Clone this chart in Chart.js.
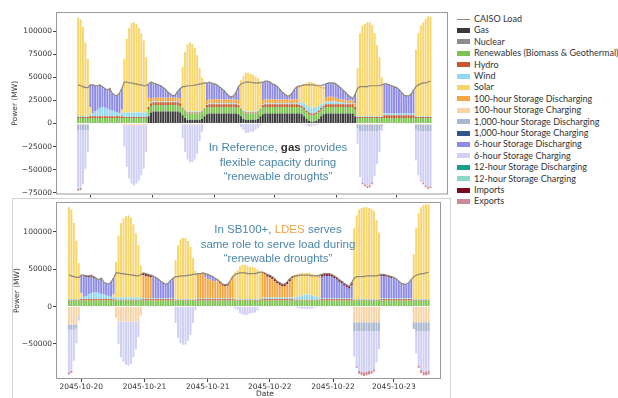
<!DOCTYPE html>
<html>
<head>
<meta charset="utf-8">
<script src="https://cdn.jsdelivr.net/npm/chart.js@4.4.1/dist/chart.umd.min.js"></script>
<style>
  body { margin: 0; background: #fff; width: 618px; height: 398px; overflow: hidden; position: relative; font-family: 'DejaVu Sans', sans-serif; }
  canvas { position: absolute; left: 0; }
  #top { top: 0; }
  #bot { top: 196px; }
  .box { position: absolute; left: 12px; top: 198px; width: 437px; height: 220px; border: 1px solid #d2d2d2; }
  .note { position: absolute; left: 178px; width: 200px; text-align: center; color: #4a86aa; font: 11.5px 'Liberation Sans', Arial, sans-serif; line-height: 14.5px; }
  #date { position: absolute; left: 245px; top: 389px; width: 40px; text-align: center; font-size: 7.5px; color: #333; }
  #legend { position: absolute; left: 457px; top: 13px; font: 9px Lato, sans-serif; color: #333; }
  .row { position: absolute; left: 0; height: 12px; line-height: 12px; white-space: nowrap; }
  .sw { position: absolute; left: 0; top: 3.5px; width: 13px; height: 5px; }
  .sw.line { top: 5.5px; height: 1.3px; }
  .row span.t { position: absolute; left: 17px; top: 0; }
</style>
</head>
<body>
<div class="box"></div>
<canvas id="top" width="450" height="200"></canvas>
<canvas id="bot" width="450" height="202"></canvas>
<div class="note" style="top:140px">In Reference, <b style="color:#333">gas</b> provides<br>flexible capacity during<br>“renewable droughts”</div>
<div class="note" style="top:222px">In SB100+, <span style="color:#f0a246">LDES</span> serves<br>same role to serve load during<br>“renewable droughts”</div>
<div id="date">Date</div>
<div id="legend"></div>
<script>
// hourly steps, first bar = 2045-10-20 11:00
const hours = Array.from({length: 146}, (_, i) => i);
const tickPos = [5, 30.5, 56, 81, 106.5, 131];
const tickText = ['2045-10-20', '2045-10-21', '2045-10-21', '2045-10-22', '2045-10-22', '2045-10-23'];
const yTicksTop = [-75000, -50000, -25000, 0, 25000, 50000, 75000, 100000];
const yTicksBot = [-50000, 0, 50000, 100000];

// all values below in thousands of MW

// CAISO load (same in both panels)
const load = [
  42,41,40,39,39,42,
  42,41,41,42,40,38,36,38,33,31,30,33,38,
  45,45,44,44,43,43,42,42,41,41,43,
  45,44,43,42,41,39,37,34,32,30,31,35,38,
  40,40,41,41,41,42,42,43,43,44,44,45,
  44,43,42,40,38,36,33,30,29,30,34,40,
  43,44,45,45,45,44,44,44,44,45,46,46,
  45,43,42,40,37,34,32,30,30,33,37,40,
  41,41,42,42,42,42,42,41,41,41,42,43,
  44,44,44,43,41,39,36,34,31,29,27,32,
  38,40,40,40,40,41,41,41,41,41,42,
  43,43,42,41,40,39,37,34,31,30,30,32,36,
  40,42,43,44,44,45,46
];

// ---- Reference panel ----
const gasRef = [
  0,0,0,0,0,
  0,0,0,0,0, 0,0,0,0,0, 0,0,0,0,
  0,0,0,0,0, 0,0,0,0,0,
  8,12,13,13,13,13,13,13,13,13,13,13,13,12,
  9,6,4,4,4,4,4,4,5,8,
  10,11,11,11,11,11,11,11,11,11,11,11,11,10,
  8,5,4,4,4,4,4,5,8,
  10,11,11,11,11,11,11,11,11,11,11,11,11,11,11,
  11,10,8,5,3,2,2,3,5,8,10,
  11,11,11,11,11,11,11,11,11,11,11,11,8,
  0,0,0,0,0, 0,0,0,0,0, 0,
  0,0,0,0,0, 0,0,0,0,0, 0,0,0,
  0,0,0,0,0, 0,0
];
const renewRef = [
  6,6,6,6,6,
  6,6,6,6,6, 6,6,6,6,6, 6,6,6,6,
  6,6,6,6,6, 6,6,6,6,6,
  7,7,7,7,7, 7,7,7,7,7, 7,7,7,7,
  7,7,7,7,7, 7,7,7,7,7,
  7,7,7,7,7, 7,7,7,7,7, 7,7,7,7,
  7,7,7,7,7, 7,7,7,7,
  7,7,7,7,7, 7,7,7,7,7, 7,7,7,7,7,
  7,7,7,7,7, 7,7,7,7,7, 7,
  7,7,7,7,7, 7,7,7,7,7, 7,7,7,
  6,6,6,6,6, 6,6,6,6,6, 6,
  6,6,6,6,6, 6,6,6,6,6, 6,6,6,
  6,6,6,6,6, 6,6
];
const hydroRef = [
  1,1,1,1,1,
  2,2,2,2,2, 2,2,2,2,2, 2,2,2,2,
  1,1,1,1,1, 1,1,1,1,1,
  3,3,3,3,3, 3,3,3,3,3, 3,3,3,3,
  1,1,1,1,1, 1,1,1,1,1,
  3,3,3,3,3, 3,3,3,3,3, 3,3,3,3,
  1,1,1,1,1, 1,1,1,1,
  3,3,3,3,3, 3,3,3,3,3, 3,3,3,3,3,
  2,2,2,2,2, 2,2,2,2,2, 2,
  3,3,3,3,3, 3,3,3,3,3, 3,3,3,
  1,1,1,1,1, 1,1,1,1,1, 1,
  3,3,3,3,3, 3,3,3,3,3, 3,3,3,
  1,1,1,1,1, 1,1
];
const windRef = [
  1,1,1,1,1,
  2,3,5,7,9,10,9,8,7,6,5,4,3,3,
  5,5,5,5,5, 5,5,5,5,5,
  1,1,1,1,1, 1,1,1,1,1, 1,1,1,1,
  1,1,1,1,1, 1,1,1,1,1,
  1,1,1,1,1, 1,1,1,1,1, 1,1,1,1,
  1,1,1,1,1, 1,1,1,1,
  1,1,1,1,1, 1,1,1,1,1, 1,1,1,1,1,
  3,4,5,6,6,6,6,6,5,4,3,
  3,3,3,3,3,2,2,2,1,1,1,1,1,
  1,1,1,1,1, 1,1,1,1,1, 1,
  2,2,2,2,2, 2,2,2,2,2, 2,2,2,
  1,1,1,1,1, 1,1
];
const solarRef = [
  107,105,97,80,62,
  8,0,0,0,0, 0,0,0,0,0, 0,0,0,4,
  58,80,92,97,98,96,92,86,78,60,
  5,0,0,0,0, 0,0,0,0,0, 0,0,0,0,
  44,63,73,75,73,69,61,47,36,28,
  0,0,0,0,0, 0,0,0,0,0, 0,0,0,0,
  30,37,42,42,41,40,38,35,29,
  0,0,0,0,0, 0,0,0,0,0, 0,0,0,0,0,
  15,17,20,24,27,28,27,25,22,17,15,
  0,0,0,0,0, 0,0,0,0,0, 0,0,0,
  52,90,98,100,102,102,99,90,77,64,42,
  0,0,0,0,0, 0,0,0,0,0, 0,0,0,
  72,90,98,102,105,108,108
];
const dis100Ref = [
  0,0,0,0,0,
  0,0,0,0,0, 0,0,0,0,0, 0,0,0,0,
  0,0,0,0,0, 0,0,0,0,0,
  4,4,4,4,4, 4,4,4,4,4, 4,4,4,4,
  0,0,0,0,0, 0,0,0,0,0,
  4,4,4,4,4, 4,4,4,4,4, 4,4,4,4,
  0,0,0,0,0, 0,0,0,0,
  4,4,4,4,4, 4,4,4,4,4, 4,4,4,4,4,
  3,2,1,0,0,0,0,0,1,2,3,
  4,5,5,5,4,4,3,3,3,3,3,3,3,
  0,0,0,0,0, 0,0,0,0,0, 0,
  0,0,0,0,0, 0,0,0,0,0, 0,0,0,
  0,0,0,0,0, 0,0
];
const dis6Ref = [
  0,0,0,0,0,
  24,31,28,26,25,22,21,20,23,19,18,18,22,23,
  0,0,0,0,0, 0,0,0,0,0,
  15,18,16,15,14,13,11,9,6,4,2,3,7,11,
  0,0,0,0,0, 0,0,0,0,0,
  19,19,18,17,16,14,12,10,7,4,3,4,8,15,
  0,0,0,0,0, 0,0,0,0,
  20,20,20,19,17,16,14,11,8,6,4,4,7,11,14,
  0,0,0,0,0, 0,0,0,0,0, 0,
  15,15,15,15,15,14,13,10,9,6,4,2,10,
  0,0,0,0,0, 0,0,0,0,0, 0,
  32,32,31,30,29,28,26,23,20,19,19,21,25,
  0,0,0,0,0, 0,0
];
const ch100Ref = [
  -1,-1,-1,-1,-1,
  0,0,0,0,0, 0,0,0,0,0, 0,0,0,0,
  -2,-2,-2,-2,-2, -2,-2,-2,-2,-2,
  0,0,0,0,0, 0,0,0,0,0, 0,0,0,0,
  -1,-1,-1,-1,-1, -1,-1,-1,-1,0,
  0,0,0,0,0, 0,0,0,0,0, 0,0,0,0,
  0,0,0,0,0, 0,0,0,0,
  0,0,0,0,0, 0,0,0,0,0, 0,0,0,0,0,
  0,0,0,0,0, 0,0,0,0,0, 0,
  0,0,0,0,0, 0,0,0,0,0, 0,0,0,
  -1,-1,-1,-1,-1, -1,-1,-1,-1,-1, -1,
  0,0,0,0,0, 0,0,0,0,0, 0,0,0,
  -1,-1,-1,-1,-1, -1,-1
];
const ch1000Ref = [
  -6,-6,-6,-6,-6,
  0,0,0,0,0, 0,0,0,0,0, 0,0,0,0,
  0,0,0,0,0, 0,0,0,0,0,
  0,0,0,0,0, 0,0,0,0,0, 0,0,0,0,
  0,0,0,0,0, 0,0,0,0,0,
  0,0,0,0,0, 0,0,0,0,0, 0,0,0,0,
  0,0,0,0,0, 0,0,0,0,
  0,0,0,0,0, 0,0,0,0,0, 0,0,0,0,0,
  0,0,0,0,0, 0,0,0,0,0, 0,
  0,0,0,0,0, 0,0,0,0,0, 0,0,0,
  -4,-7,-7,-7,-7,-7,-7,-7,-7,-6,-2,
  0,0,0,0,0, 0,0,0,0,0, 0,0,0,
  -5,-7,-7,-7,-7,-7,-7
];
const ch6Ref = [
  -64,-63,-57,-42,-24,
  0,0,0,0,0, 0,0,0,0,0, 0,0,0,0,
  -23,-45,-58,-63,-65,-63,-60,-54,-47,-29,
  0,0,0,0,0, 0,0,0,0,0, 0,0,0,0,
  -15,-30,-38,-41,-41,-38,-32,-18,-8,-1,
  0,0,0,0,0, 0,0,0,0,0, 0,0,0,0,
  -4,-7,-10,-10,-9,-9,-7,-5,-2,
  0,0,0,0,0, 0,0,0,0,0, 0,0,0,0,0,
  0,-1,-1,-2,-3,-3,-2,-2,-1,0,0,
  0,0,0,0,0, 0,0,0,0,0, 0,0,0,
  -17,-50,-56,-58,-60,-59,-56,-49,-36,-24,-5,
  0,0,0,0,0, 0,0,0,0,0, 0,0,0,
  -34,-48,-54,-56,-59,-61,-60
];
const expRef = [
  -2,-2,-1,0,0,
  0,0,0,0,0, 0,0,0,0,0, 0,0,0,0,
  0,0,0,0,0, 0,0,0,0,0,
  0,0,0,0,0, 0,0,0,0,0, 0,0,0,0,
  0,0,0,0,0, 0,0,0,0,0,
  0,0,0,0,0, 0,0,0,0,0, 0,0,0,0,
  0,0,0,0,0, 0,0,0,0,
  0,0,0,0,0, 0,0,0,0,0, 0,0,0,0,0,
  0,0,0,0,0, 0,0,0,0,0, 0,
  0,0,0,0,0, 0,0,0,0,0, 0,0,0,
  0,0,-2,-2,-2,-2,-2,0,0,0,0,
  0,0,0,0,0, 0,0,0,0,0, 0,0,0,
  0,0,-1,-2,-2,-2,-2
];

// ---- SB100+ panel ----
const renewB = [
  8,8,8,8,8, 8,8,8,8,8, 8,8,8,8,8, 8,8,8,8,8, 8,8,8,8,8, 8,8,8,8,8,
  8,8,8,8,8, 8,8,8,8,8, 8,8,8,8,8, 8,8,8,8,8, 8,8,8,8,8, 8,8,8,8,8,
  8,8,8,8,8, 8,8,8,8,8, 8,8,8,8,8, 8,8,8,8,8, 8,8,8,8,8, 8,8,8,8,8,
  8,8,8,8,8, 8,8,8,8,8, 8,8,8,8,8, 8,8,8,8,8, 8,8,8,8,8, 8,8,8,8,8,
  8,8,8,8,8, 8,8,8,8,8, 8,8,8,8,8, 8,8,8,8,8, 8,8,8,8,8, 8
];
const hydroB = [
  1,1,1,1,1,
  2,2,2,2,2, 2,2,2,2,2, 2,2,2,2,
  1,1,1,1,1, 1,1,1,1,1, 1,
  2,2,2,2,2, 2,2,2,2,2, 2,2,2,
  1,1,1,1,1, 1,1,1,1,
  2,2,2,2,2, 2,2,2,2,2, 2,2,2,2,2,
  1,1,1,1,1, 1,1,1,1,1, 1,
  2,2,2,2,2, 2,2,2,2,2, 2,2,2,
  1,1,1,1,1, 1,1,1,1,1, 1,
  2,2,2,2,2, 2,2,2,2,2, 2,2,2,
  1,1,1,1,1, 1,1,1,1,1, 1,
  2,2,2,2,2, 2,2,2,2,2, 2,2,2,
  1,1,1,1,1, 1,1
];
const windB = [
  1,1,1,1,1,
  2,3,4,6,8,9,9,8,7,6,5,4,3,3,
  3,3,3,3,3, 3,3,3,3,3, 3,
  1,1,1,1,1, 1,1,1,1,1, 1,1,1,
  1,1,1,1,1, 1,1,1,1,
  1,1,1,1,1, 1,1,1,1,1, 1,1,1,1,1,
  1,1,1,1,1, 1,1,1,1,1, 1,
  2,2,2,2,2, 2,2,2,2,2, 2,2,2,
  3,4,5,6,7,7,7,6,5,4,3,
  1,1,1,1,1, 1,1,1,1,1, 1,1,1,
  1,1,1,1,1, 1,1,1,1,1, 1,
  1,1,1,1,1, 1,1,1,1,1, 1,1,1,
  1,1,1,1,1, 1,1
];
const solarB = [
  123,120,102,78,48,
  6,0,0,0,0, 0,0,0,0,0, 0,0,0,3,
  48,83,100,106,109,110,107,98,86,70,43,
  0,0,0,0,0, 0,0,0,0,0, 0,0,0,
  52,72,80,82,82,78,70,55,38,
  0,0,0,0,0, 0,0,0,0,0, 0,0,0,0,0,
  36,39,44,46,46,45,43,43,42,40,37,
  0,0,0,0,0, 0,0,0,0,0, 0,0,0,
  26,28,30,30,29,29,29,29,29,27,26,
  0,0,0,0,0, 0,0,0,0,0, 0,0,0,
  95,112,120,122,123,123,122,121,118,106,89,
  0,0,0,0,0, 0,0,0,0,0, 0,0,0,
  60,95,115,123,126,127,127
];
const dis100B = [
  0,0,0,0,0,
  0,0,0,0,0, 0,0,0,0,0, 0,0,0,0,
  0,0,0,0,0, 0,0,0,0,0, 0,
  31,30,29,28,0, 0,0,0,0,0, 0,0,0,
  0,0,0,0,0, 0,0,0,0,
  33,33,34,28,26,25,23,23,25,20,17,16,17,23,29,
  0,0,0,0,0, 0,0,0,0,0, 0,
  34,31,28,27,25,22,19,17,15,15,18,22,26,
  4,2,0,0,0,0,0,0,0,2,4,
  0,0,0,0,0, 0,0,0,0,0, 0,0,0,
  0,0,0,0,0, 0,0,0,0,0, 0,
  0,0,0,0,0, 0,0,0,0,0, 0,0,0,
  0,0,0,0,0, 0,0
];
const dis6B = [
  0,0,0,0,0,
  24,29,25,23,22,19,18,18,21,17,16,16,20,22,
  0,0,0,0,0, 0,0,0,0,0, 0,
  0,0,0,0,30,28,26,23,21,19,20,24,27,
  0,0,0,0,0, 0,0,0,0,
  0,0,0,5,6,6,6,4,0,0,0,0,0,0,0,
  0,0,0,0,0, 0,0,0,0,0, 0,
  0,0,0,0,0, 0,0,0,0,0, 0,0,0,
  0,0,0,0,0, 0,0,0,0,0, 0,
  29,30,30,30,29,27,25,22,20,17,15,13,18,
  0,0,0,0,0, 0,0,0,0,0, 0,
  30,30,29,28,27,28,26,23,20,19,19,21,25,
  0,0,0,0,0, 0,0
];
const impB = [
  0,0,0,0,0,
  0,0,2,2,2,2,1,0,0,0,0,0,0,0,
  0,0,0,0,0, 0,0,0,0,0, 0,
  3,3,3,3,0, 0,0,0,0,0, 0,0,0,
  0,0,0,0,0, 0,0,0,0,
  0,0,0,0,0,0,0,0,0,2,2,2,2,0,0,
  0,0,0,0,0, 0,0,0,0,0, 0,
  0,2,3,3,3,3,3,3,3,3,3,3,2,
  0,0,0,0,0, 0,0,0,0,0, 0,
  3,3,3,3,3, 3,3,3,3,3, 3,3,3,
  0,0,0,0,0, 0,0,0,0,0, 0,
  2,2,2,2,2, 0,0,0,0,0, 0,0,0,
  0,0,0,0,0, 0,0
];
const ch100B = [
  -24,-24,-24,-24,-12,
  0,0,0,0,0, 0,0,0,0,0, 0,0,0,0,
  -15,-20,-20,-20,-20,-20,-20,-20,-20,-20,-12,
  0,0,0,0,0, 0,0,0,0,0, 0,0,0,
  0,0,0,0,0, 0,0,0,0,
  0,0,0,0,0, 0,0,0,0,0, 0,0,0,0,0,
  0,0,0,0,0, 0,0,0,0,0, 0,
  0,0,0,0,0, 0,0,0,0,0, 0,0,0,
  0,0,0,0,0, 0,0,0,0,0, 0,
  0,0,0,0,0, 0,0,0,0,0, 0,0,0,
  -21,-21,-21,-21,-21, -21,-21,-21,-21,-21, -21,
  0,0,0,0,0, 0,0,0,0,0, 0,0,0,
  -21,-21,-21,-21,-21, -21,-21
];
const ch1000B = [
  -7,-7,-7,-5,0,
  0,0,0,0,0, 0,0,0,0,0, 0,0,0,0,
  0,0,0,0,0, 0,0,0,0,0, 0,
  0,0,0,0,0, 0,0,0,0,0, 0,0,0,
  0,0,0,0,0, 0,0,0,0,
  0,0,0,0,0, 0,0,0,0,0, 0,0,0,0,0,
  0,0,0,0,0, 0,0,0,0,0, 0,
  0,0,0,0,0, 0,0,0,0,0, 0,0,0,
  0,0,0,0,0, 0,0,0,0,0, 0,
  0,0,0,0,0, 0,0,0,0,0, 0,0,0,
  -12,-12,-12,-12,-12, -12,-12,-12,-12,-12, -12,
  0,0,0,0,0, 0,0,0,0,0, 0,0,0,
  -9,-12,-12,-12,-12,-12,-12
];
const ch6B = [
  -57,-55,-40,-20,-7,
  0,0,0,0,0, 0,0,0,0,0, 0,0,0,0,
  0,-30,-48,-54,-58,-59,-57,-48,-37,-21,0,
  0,0,0,0,0, 0,0,0,0,0, 0,0,0,
  -22,-42,-49,-51,-51,-46,-38,-22,-5,
  0,0,0,0,0, 0,0,0,0,0, 0,0,0,0,0,
  -3,-5,-9,-11,-11,-11,-9,-9,-8,-5,-1,
  0,0,0,0,0, 0,0,0,0,0, 0,0,0,
  -1,-2,-2,-3,-3,-3,-3,-3,-2,-1,0,
  0,0,0,0,0, 0,0,0,0,0, 0,0,0,
  -34,-47,-53,-54,-55,-54,-53,-53,-51,-42,-24,
  0,0,0,0,0, 0,0,0,0,0, 0,0,0,
  0,-30,-46,-52,-54,-54,-53
];
const expB = [
  -3,-3,-1,0,0,
  0,0,0,0,0, 0,0,0,0,0, 0,0,0,0,
  0,0,0,0,0, 0,0,0,0,0, 0,
  0,0,0,0,0, 0,0,0,0,0, 0,0,0,
  0,0,0,0,0, 0,0,0,0,
  0,0,0,0,0, 0,0,0,0,0, 0,0,0,0,0,
  0,0,0,0,0, 0,0,0,0,0, 0,
  0,0,0,0,0, 0,0,0,0,0, 0,0,0,
  0,0,0,0,0, 0,0,0,0,0, 0,
  0,0,0,0,0, 0,0,0,0,0, 0,0,0,
  0,-2,-4,-5,-5,-5,-5,-4,-3,0,0,
  0,0,0,0,0, 0,0,0,0,0, 0,0,0,
  0,0,-3,-4,-5,-5,-5
];

const colors = {
  load: '#8e8878', gas: '#3a3a3a', nuclear: '#8c8c8c', renew: '#7dc353', hydro: '#c8572e',
  wind: '#92d7f1', solar: '#f8d66e', dis100: '#f4a642', ch100: '#f7d4a8', dis1000: '#a9b7d0',
  ch1000: '#33578a', dis6: '#8d8be6', ch6: '#d0cff6', dis12: '#16a089', ch12: '#8bd8c8',
  imports: '#7a0b22', exports: '#cc8a97'
};
const legendNames = ['CAISO Load', 'Gas', 'Nuclear', 'Renewables (Biomass & Geothermal)', 'Hydro', 'Wind', 'Solar',
  '100-hour Storage Discharging', '100-hour Storage Charging', '1,000-hour Storage Discharging', '1,000-hour Storage Charging',
  '6-hour Storage Discharging', '6-hour Storage Charging', '12-hour Storage Discharging', '12-hour Storage Charging',
  'Imports', 'Exports'];
const legendKeys = ['load', 'gas', 'nuclear', 'renew', 'hydro', 'wind', 'solar', 'dis100', 'ch100', 'dis1000', 'ch1000',
  'dis6', 'ch6', 'dis12', 'ch12', 'imports', 'exports'];

const all = {load, gasRef, renewRef, hydroRef, windRef, solarRef, dis100Ref, dis6Ref, ch100Ref, ch1000Ref, ch6Ref, expRef,
  renewB, hydroB, windB, solarB, dis100B, dis6B, impB, ch100B, ch1000B, ch6B, expB};
for (const [n, a] of Object.entries(all)) if (a.length !== 146) throw new Error(n + ' has ' + a.length);

const frame = {
  id: 'frame',
  afterDraw(c) {
    const a = c.chartArea, ctx = c.ctx;
    ctx.save();
    ctx.strokeStyle = '#9a9a9a';
    ctx.lineWidth = 1;
    ctx.strokeRect(a.left + 0.5, a.top + 0.5, a.right - a.left - 1, a.bottom - a.top - 1);
    ctx.restore();
  }
};

const tickFont = {family: 'DejaVu Sans', size: 7.5};

function draw(id, series, o) {
  const datasets = series.map(([label, key, vals]) => ({
    type: 'bar', label, data: vals.map(v => v * 1000), backgroundColor: colors[key],
    barPercentage: 0.8, categoryPercentage: 1, stack: 'mix', order: 1
  }));
  datasets.push({
    type: 'line', label: 'CAISO Load', data: load.map(v => v * 1000), borderColor: colors.load,
    borderWidth: 1.2, pointRadius: 0, stack: 'load', order: 0
  });
  new Chart(document.getElementById(id), {
    data: {labels: hours, datasets},
    options: {
      responsive: false, animation: false, devicePixelRatio: 1,
      layout: {padding: o.pad},
      plugins: {legend: {display: false}, tooltip: {enabled: false}},
      scales: {
        x: {
          type: 'linear', stacked: true, offset: false, min: o.xMin, max: o.xMax,
          afterBuildTicks: s => { s.ticks = tickPos.map(v => ({value: v})); },
          afterFit: s => { s.height = o.xh; },
          grid: {drawOnChartArea: false, offset: false, tickLength: 3, color: '#444'},
          border: {display: false},
          ticks: {autoSkip: false, maxRotation: 0, padding: 1, font: tickFont, color: '#333',
            callback: (v, i) => o.labels ? tickText[i] : ''}
        },
        y: {
          stacked: true, min: o.yMin, max: o.yMax,
          afterBuildTicks: s => { s.ticks = o.yTicks.map(v => ({value: v})); },
          afterFit: s => { s.width = 56; },
          grid: {drawOnChartArea: false, tickLength: 3, color: '#444'},
          border: {display: false},
          title: {display: true, text: 'Power (MW)', font: tickFont, color: '#333', padding: {top: o.tpad, bottom: 0}},
          ticks: {padding: 1, font: tickFont, color: '#333',
            callback: v => v < 0 ? '\u2212' + Math.abs(v) : String(v)}
        }
      }
    },
    plugins: [frame]
  });
}

draw('top', [
  ['Gas', 'gas', gasRef],
  ['Renewables (Biomass & Geothermal)', 'renew', renewRef],
  ['Hydro', 'hydro', hydroRef],
  ['Wind', 'wind', windRef],
  ['Solar', 'solar', solarRef],
  ['100-hour Storage Discharging', 'dis100', dis100Ref],
  ['6-hour Storage Discharging', 'dis6', dis6Ref],
  ['100-hour Storage Charging', 'ch100', ch100Ref],
  ['1,000-hour Storage Charging', 'dis1000', ch1000Ref],
  ['6-hour Storage Charging', 'ch6', ch6Ref],
  ['Exports', 'exports', expRef]
], {pad: {top: 12, right: 2, left: 0, bottom: 0}, xMin: -9.1, xMax: 152.2, xh: 4, labels: false,
    yMin: -77000, yMax: 121000, yTicks: yTicksTop, tpad: 11});

draw('bot', [
  ['Renewables (Biomass & Geothermal)', 'renew', renewB],
  ['Hydro', 'hydro', hydroB],
  ['Wind', 'wind', windB],
  ['Solar', 'solar', solarB],
  ['100-hour Storage Discharging', 'dis100', dis100B],
  ['6-hour Storage Discharging', 'dis6', dis6B],
  ['Imports', 'imports', impB],
  ['100-hour Storage Charging', 'ch100', ch100B],
  ['1,000-hour Storage Charging', 'dis1000', ch1000B],
  ['6-hour Storage Charging', 'ch6', ch6B],
  ['Exports', 'exports', expB]
], {pad: {top: 6, right: 9, left: 0, bottom: 0}, xMin: -5.2, xMax: 150, xh: 19, labels: true,
    yMin: -97000, yMax: 140000, yTicks: yTicksBot, tpad: 13});

// legend
const legend = document.getElementById('legend');
legendNames.forEach((name, i) => {
  const row = document.createElement('div');
  row.className = 'row';
  row.style.top = (11.4 * i) + 'px';
  const sw = document.createElement('div');
  sw.className = i === 0 ? 'sw line' : 'sw';
  sw.style.background = colors[legendKeys[i]];
  const t = document.createElement('span');
  t.className = 't';
  t.textContent = name;
  row.appendChild(sw);
  row.appendChild(t);
  legend.appendChild(row);
});
</script>
</body>
</html>
